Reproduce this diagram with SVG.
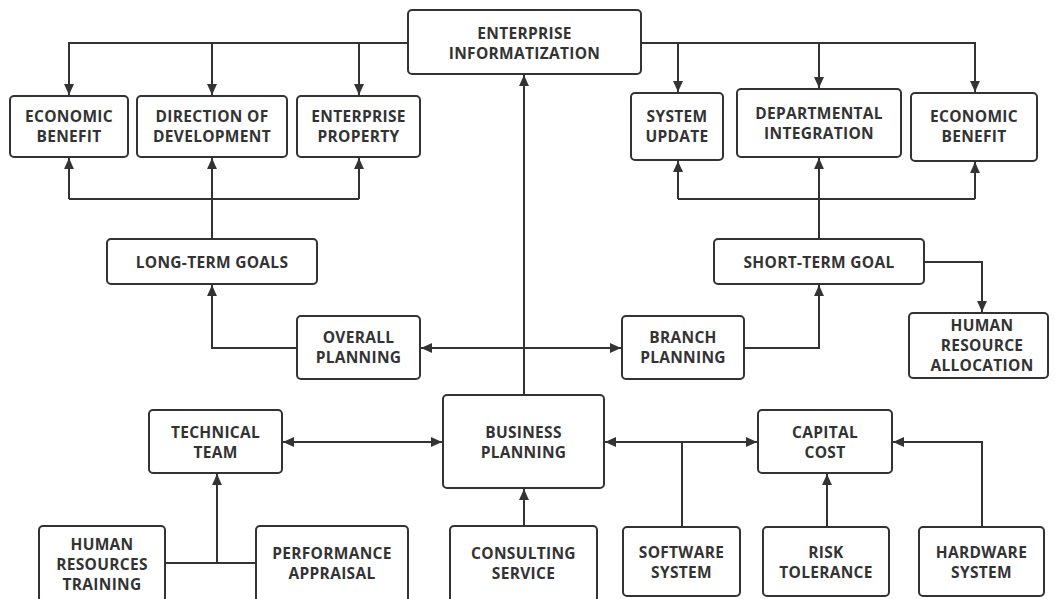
<svg xmlns="http://www.w3.org/2000/svg" width="1055" height="599" viewBox="0 0 1055 599">
  <defs>
    <marker id="arrow" viewBox="0 0 10 10" refX="10" refY="5" markerWidth="11" markerHeight="11" markerUnits="userSpaceOnUse" orient="auto-start-reverse">
      <path d="M0,0.5 L10,5 L0,9.5 z" fill="#333"/>
    </marker>
    <style>
      .box { fill: #fff; stroke: #333; stroke-width: 2; }
      .label { font-family: "Open Sans", "Liberation Sans", sans-serif; font-weight: bold; font-size: 15.5px; fill: #333; text-anchor: middle; letter-spacing: 0.3px; }
      .wire { fill: none; stroke: #333; stroke-width: 2; }
      .arr { marker-end: url(#arrow); }
      .both { marker-start: url(#arrow); marker-end: url(#arrow); }
    </style>
  </defs>
  <rect width="1055" height="599" fill="#fff"/>

  <!-- connectors -->
  <g id="connectors">
    <!-- informatization down to the top rows -->
    <path class="wire arr" d="M408,43 H69 V95"/>
    <path class="wire arr" d="M212,43 V95"/>
    <path class="wire arr" d="M359,43 V95"/>
    <path class="wire arr" d="M641,43 H975 V92"/>
    <path class="wire arr" d="M678,43 V92"/>
    <path class="wire arr" d="M819,43 V88"/>
    <!-- long-term goals up to the left row -->
    <path class="wire" d="M212,239 V199"/>
    <path class="wire" d="M69,199 H359"/>
    <path class="wire arr" d="M69,199 V158"/>
    <path class="wire arr" d="M212,199 V158"/>
    <path class="wire arr" d="M359,199 V158"/>
    <!-- short-term goal up to the right row -->
    <path class="wire" d="M819,239 V199"/>
    <path class="wire" d="M678,199 H975"/>
    <path class="wire arr" d="M678,199 V161"/>
    <path class="wire arr" d="M819,199 V158"/>
    <path class="wire arr" d="M975,199 V162"/>
    <!-- planning level -->
    <path class="wire arr" d="M297,348 H212 V285"/>
    <path class="wire both" d="M421,348 H621"/>
    <path class="wire arr" d="M744,348 H819 V285"/>
    <path class="wire arr" d="M924,262 H982 V312"/>
    <path class="wire arr" d="M524,395 V75"/>
    <!-- business level -->
    <path class="wire both" d="M283,442 H442"/>
    <path class="wire" d="M165,563 H256"/>
    <path class="wire arr" d="M217,563 V474"/>
    <path class="wire arr" d="M524,526 V489"/>
    <path class="wire both" d="M605,442 H757"/>
    <path class="wire" d="M682,527 V442"/>
    <path class="wire arr" d="M827,527 V474"/>
    <path class="wire arr" d="M982,527 V442 H893"/>
  </g>

  <g id="enterprise-informatization">
    <rect class="box" x="408" y="10" width="233" height="64" rx="4"/>
    <text class="label" x="524.5" y="39">ENTERPRISE</text>
    <text class="label" x="524.5" y="59">INFORMATIZATION</text>
  </g>

  <g id="economic-benefit-left">
    <rect class="box" x="10" y="96" width="118" height="61" rx="4"/>
    <text class="label" x="69" y="122">ECONOMIC</text>
    <text class="label" x="69" y="142">BENEFIT</text>
  </g>
  <g id="direction-of-development">
    <rect class="box" x="137" y="96" width="150" height="61" rx="4"/>
    <text class="label" x="212" y="122">DIRECTION OF</text>
    <text class="label" x="212" y="142">DEVELOPMENT</text>
  </g>
  <g id="enterprise-property">
    <rect class="box" x="297" y="96" width="123" height="61" rx="4"/>
    <text class="label" x="358.5" y="122">ENTERPRISE</text>
    <text class="label" x="358.5" y="142">PROPERTY</text>
  </g>

  <g id="system-update">
    <rect class="box" x="631" y="93" width="92" height="67" rx="4"/>
    <text class="label" x="677" y="122">SYSTEM</text>
    <text class="label" x="677" y="142">UPDATE</text>
  </g>
  <g id="departmental-integration">
    <rect class="box" x="737" y="89" width="164" height="68" rx="4"/>
    <text class="label" x="819" y="119">DEPARTMENTAL</text>
    <text class="label" x="819" y="139">INTEGRATION</text>
  </g>
  <g id="economic-benefit-right">
    <rect class="box" x="911" y="93" width="126" height="68" rx="4"/>
    <text class="label" x="974" y="122">ECONOMIC</text>
    <text class="label" x="974" y="142">BENEFIT</text>
  </g>

  <g id="long-term-goals">
    <rect class="box" x="107" y="239" width="210" height="45" rx="4"/>
    <text class="label" x="212" y="267.5">LONG-TERM GOALS</text>
  </g>
  <g id="short-term-goal">
    <rect class="box" x="714" y="239" width="210" height="45" rx="4"/>
    <text class="label" x="819" y="267.5">SHORT-TERM GOAL</text>
  </g>

  <g id="overall-planning">
    <rect class="box" x="297" y="316" width="123" height="63" rx="4"/>
    <text class="label" x="358.5" y="343">OVERALL</text>
    <text class="label" x="358.5" y="363">PLANNING</text>
  </g>
  <g id="branch-planning">
    <rect class="box" x="622" y="316" width="122" height="63" rx="4"/>
    <text class="label" x="683" y="343">BRANCH</text>
    <text class="label" x="683" y="363">PLANNING</text>
  </g>
  <g id="human-resource-allocation">
    <rect class="box" x="909" y="313" width="139" height="65" rx="4"/>
    <text class="label" x="982" y="331">HUMAN</text>
    <text class="label" x="982" y="351">RESOURCE</text>
    <text class="label" x="982" y="371">ALLOCATION</text>
  </g>

  <g id="business-planning">
    <rect class="box" x="443" y="395" width="161" height="93" rx="4"/>
    <text class="label" x="523.5" y="437.5">BUSINESS</text>
    <text class="label" x="523.5" y="457.5">PLANNING</text>
  </g>
  <g id="technical-team">
    <rect class="box" x="149" y="410" width="133" height="63" rx="4"/>
    <text class="label" x="215.5" y="437.5">TECHNICAL</text>
    <text class="label" x="215.5" y="457.5">TEAM</text>
  </g>
  <g id="capital-cost">
    <rect class="box" x="758" y="410" width="134" height="63" rx="4"/>
    <text class="label" x="825" y="437.5">CAPITAL</text>
    <text class="label" x="825" y="457.5">COST</text>
  </g>

  <g id="human-resources-training">
    <rect class="box" x="39" y="526" width="126" height="76" rx="4"/>
    <text class="label" x="102" y="549.5">HUMAN</text>
    <text class="label" x="102" y="569.5">RESOURCES</text>
    <text class="label" x="102" y="589.5">TRAINING</text>
  </g>
  <g id="performance-appraisal">
    <rect class="box" x="256" y="526" width="152" height="76" rx="4"/>
    <text class="label" x="332" y="558.5">PERFORMANCE</text>
    <text class="label" x="332" y="578.5">APPRAISAL</text>
  </g>
  <g id="consulting-service">
    <rect class="box" x="450" y="526" width="147" height="76" rx="4"/>
    <text class="label" x="523.5" y="558.5">CONSULTING</text>
    <text class="label" x="523.5" y="578.5">SERVICE</text>
  </g>
  <g id="software-system">
    <rect class="box" x="623" y="527" width="117" height="69" rx="4"/>
    <text class="label" x="681.5" y="557.5">SOFTWARE</text>
    <text class="label" x="681.5" y="577.5">SYSTEM</text>
  </g>
  <g id="risk-tolerance">
    <rect class="box" x="763" y="527" width="126" height="69" rx="4"/>
    <text class="label" x="826" y="557.5">RISK</text>
    <text class="label" x="826" y="577.5">TOLERANCE</text>
  </g>
  <g id="hardware-system">
    <rect class="box" x="919" y="527" width="125" height="69" rx="4"/>
    <text class="label" x="981.5" y="557.5">HARDWARE</text>
    <text class="label" x="981.5" y="577.5">SYSTEM</text>
  </g>
</svg>
